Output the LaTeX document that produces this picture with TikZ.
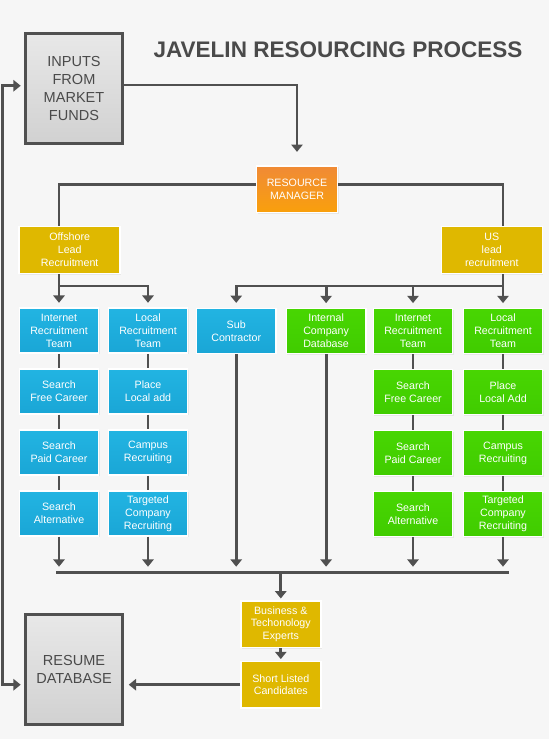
\documentclass[tikz,border=0pt]{standalone}
\usepackage{fontspec}
\setmainfont{Liberation Sans}
\usetikzlibrary{
    arrows.meta,
    positioning,
    shadows,
    calc
}
\definecolor{bgcol}{HTML}{F6F6F6}
\definecolor{linegray}{HTML}{505050}
\definecolor{textgray}{HTML}{4A4A4A}
\definecolor{bluetop}{HTML}{22B4E2}
\definecolor{bluebot}{HTML}{1AA6D6}
\definecolor{greentop}{HTML}{48D602}
\definecolor{greenbot}{HTML}{40CC00}
\definecolor{goldcol}{HTML}{DFB800}
\definecolor{orangetop}{HTML}{F08A36}
\definecolor{orangebot}{HTML}{F9A00C}
\newcommand{\boxtextfont}{\fontsize{8pt}{9.7pt}\selectfont}
\newcommand{\graytextfont}{\fontsize{10.9pt}{13.5pt}\selectfont}
\newcommand{\titletextfont}{\fontsize{16.9pt}{19pt}\selectfont\bfseries}
\tikzset{
    % Boxes
    box/.style={draw=white,line width=1.1pt,inner sep=0pt,align=center,text=white,
        font=\boxtextfont,minimum width=59.6pt,minimum height=33.75pt,
        drop shadow={opacity=0.12,shadow xshift=0.8pt,shadow yshift=-0.8pt}},
    wide box/.style={minimum width=75.75pt,minimum height=35.25pt},
    blue box/.style={box,top color=bluetop,bottom color=bluebot},
    green box/.style={box,top color=greentop,bottom color=greenbot},
    gold box/.style={box,fill=goldcol},
    orange box/.style={box,top color=orangetop,bottom color=orangebot},
    gray box/.style={draw=linegray,line width=2.25pt,inner sep=0pt,align=center,
        text=textgray,font=\graytextfont,top color=black!9,bottom color=black!18,
        minimum width=73.1pt,minimum height=82.7pt},
    title/.style={text=textgray,font=\titletextfont},
    %
    % Arrows
    arrow tip/.tip={Triangle[width=8.5pt,length=5.5pt]},
    line/.style={draw=linegray,line width=2.1pt},
    arr/.style={line,-{arrow tip},shorten >=3.5pt},
    darr/.style={line,{arrow tip}-{arrow tip},shorten >=2.3pt,shorten <=2.3pt}
}

\begin{document}
\begin{tikzpicture}[x=0.75pt,y=-0.75pt]
    \fill[bgcol] (0,0) rectangle (549,739);
    \useasboundingbox (0,0) rectangle (549,739);
    \node[title] (title) at (338,50) {JAVELIN RESOURCING PROCESS};
    \node[gray box] (inputs) at (74,88.4) {INPUTS\\FROM\\MARKET\\FUNDS};
    \node[gray box] (resume) at (74,669.2) {RESUME\\DATABASE};
    \node[orange box,minimum width=60.75pt,minimum height=34.9pt] (rm) at (297,189.2) {RESOURCE\\MANAGER};
    \node[gold box,wide box] (offshore) at (69.7,250) {Offshore\\Lead\\Recruitment};
    \node[gold box,wide box] (us) at (491.8,250) {US\\lead\\recruitment};
    % offshore teams
    \node[blue box] (irtA) at (59,330.7) {Internet\\Recruitment\\Team};
    \node[blue box] (sfcA) at (59,391.3) {Search\\Free Career};
    \node[blue box] (spcA) at (59,452.6) {Search\\Paid Career};
    \node[blue box] (saA) at (59,513.5) {Search\\Alternative};
    \node[blue box] (lrtA) at (148,330.7) {Local\\Recruitment\\Team};
    \node[blue box] (plaA) at (148,391.3) {Place\\Local add};
    \node[blue box] (crA) at (148,452.6) {Campus\\Recruiting};
    \node[blue box] (tcrA) at (148,513.5) {Targeted\\Company\\Recruiting};
    \node[blue box] (sub) at (236.2,330.8) {Sub\\Contractor};
    % us teams
    \node[green box] (icd) at (326.1,331) {Internal\\Company\\Database};
    \node[green box] (irtB) at (413,331) {Internet\\Recruitment\\Team};
    \node[green box] (sfcB) at (413,392) {Search\\Free Career};
    \node[green box] (spcB) at (413,453.2) {Search\\Paid Career};
    \node[green box] (saB) at (413,514) {Search\\Alternative};
    \node[green box] (lrtB) at (503,331) {Local\\Recruitment\\Team};
    \node[green box] (plaB) at (503,392) {Place\\Local Add};
    \node[green box] (crB) at (503,453.2) {Campus\\Recruiting};
    \node[green box] (tcrB) at (503,514) {Targeted\\Company\\Recruiting};
    % shortlist
    \node[gold box,minimum width=60pt,minimum height=34.9pt] (bte) at (280.8,624.2) {Business \&\\Techonology\\Experts};
    \node[gold box,minimum width=60pt,minimum height=34.9pt] (slc) at (280.8,684.7) {Short Listed\\Candidates};

    \draw[arr,shorten >=10pt] ([yshift=2.5pt]inputs.east) -| (rm.north);
    \draw[line] ([yshift=3.7pt]rm.west) -| (offshore.north -| irtA);
    \draw[line] ([yshift=3.7pt]rm.east) -| (us.north -| lrtB);
    \coordinate (osplit) at (59,286);
    \coordinate (usplit) at (503,286);
    \draw[arr] (offshore.south -| irtA) -- (irtA.north);
    \draw[arr] (osplit) -| (lrtA.north);
    \draw[arr] (us.south -| lrtB) -- (lrtB.north);
    \draw[arr] (usplit) -| (sub.north);
    \draw[arr] (icd.north |- usplit) -- (icd.north);
    \draw[arr] (irtB.north |- usplit) -- (irtB.north);
    \foreach \a/\b in {irtA/sfcA,sfcA/spcA,spcA/saA,lrtA/plaA,plaA/crA,crA/tcrA,
                       irtB/sfcB,sfcB/spcB,spcB/saB,lrtB/plaB,plaB/crB,crB/tcrB}
        \draw[line] (\a.south) -- (\b.north);
    \coordinate (busL) at (56,572.3);
    \coordinate (busR) at (508.7,572.3);
    \draw[line] (busL) -- (busR);
    \foreach \n in {saA,tcrA,sub,icd,saB,tcrB}
        \draw[arr,shorten >=4.2pt] (\n.south) -- (\n.south |- busL);
    \draw[arr,shorten >=1.3pt] (bte.north |- busL) -- (bte.north);
    \draw[arr,shorten >=1.2pt] (bte.south) -- (slc.north);
    \draw[arr,shorten >=3.4pt] (slc.west) -- (resume.east |- slc.west);
    \coordinate (loop) at (2.8,400);
    \draw[darr] ([yshift=2pt]inputs.west) -| (loop) |- (resume.west |- slc.west);
\end{tikzpicture}
\end{document}
